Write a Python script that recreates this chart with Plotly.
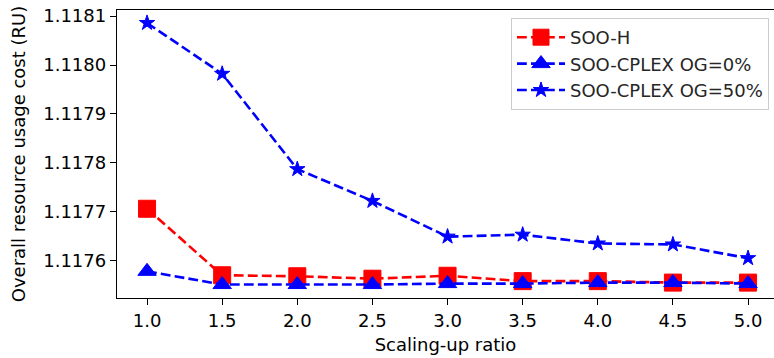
import plotly.graph_objects as go

# Scaling-up ratios on the x axis
ratios = [1.0, 1.5, 2.0, 2.5, 3.0, 3.5, 4.0, 4.5, 5.0]

# Overall resource usage cost (RU) for each method
soo_h = [1.117706, 1.117570, 1.117568, 1.117563, 1.117569, 1.117558, 1.117558, 1.117555, 1.117555]
cplex_og0 = [1.117578, 1.117551, 1.117551, 1.117551, 1.117553, 1.117553, 1.117555, 1.117555, 1.117553]
cplex_og50 = [1.118086, 1.117982, 1.117787, 1.117722, 1.117649, 1.117653, 1.117635, 1.117633, 1.117605]

series_names = ["SOO-H", "SOO-CPLEX OG=0%", "SOO-CPLEX OG=50%"]

FONT = "DejaVu Sans"
FS = 18
DASH = "9.8px,4.2px"
LW = 2.6

fig = go.Figure()

styles = [
    (soo_h, "#ff0000", "square", 17),
    (cplex_og0, "#0000ff", "triangle-up", 16),
    (cplex_og50, "#0000ff", "star", 11.5),
]

for name, (vals, color, symbol, size) in zip(series_names, styles):
    fig.add_trace(go.Scatter(
        x=ratios, y=vals, name=name, mode="lines+markers",
        legendgroup=name,
        line=dict(color=color, width=LW, dash=DASH),
        marker=dict(symbol=symbol, size=size, color=color,
                    line=dict(color=color, width=1)),
    ))

L, R, T, B = 117, 0, 10, 60
W, H = 774, 358
plot_w = W - L - R
plot_h = H - T - B
px_per_x = 150.25
x_min = 0.8
x_max = x_min + plot_w / px_per_x

fig.update_layout(
    width=W, height=H,
    margin=dict(l=L, r=R, t=T, b=B),
    plot_bgcolor="white", paper_bgcolor="white",
    font=dict(family=FONT, size=FS, color="black"),
    showlegend=True,
    legend=dict(
        x=(769 - L) / plot_w, y=(298 - 18) / plot_h,
        xanchor="right", yanchor="top",
        bgcolor="rgba(255,255,255,0.8)",
        bordercolor="#cccccc", borderwidth=1,
        font=dict(family=FONT, size=FS, color="#262626"),
        traceorder="grouped", tracegroupgap=0,
        itemwidth=48,
    ),
    xaxis=dict(
        range=[x_min, x_max],
        tickmode="array", tickvals=ratios,
        ticktext=[f"{v:.1f}" for v in ratios],
        ticks="outside", ticklen=6, tickwidth=1.4, tickcolor="black",
        showline=True, linecolor="black", linewidth=1.4, mirror=True,
        showgrid=False, zeroline=False,
        title=dict(text="Scaling-up ratio", standoff=8,
                   font=dict(family=FONT, size=FS)),
        tickfont=dict(family=FONT, size=FS),
    ),
    yaxis=dict(
        range=[1.1175235, 1.1181125],
        tick0=1.1176, dtick=0.0001, tickformat=".4f",
        ticks="outside", ticklen=6, tickwidth=1.4, tickcolor="black",
        showline=True, linecolor="black", linewidth=1.4, mirror=False,
        showgrid=False, zeroline=False,
        title=dict(text="Overall resource usage cost (RU)", standoff=12,
                   font=dict(family=FONT, size=FS)),
        tickfont=dict(family=FONT, size=FS),
    ),
)

fig.write_html("out.html")
